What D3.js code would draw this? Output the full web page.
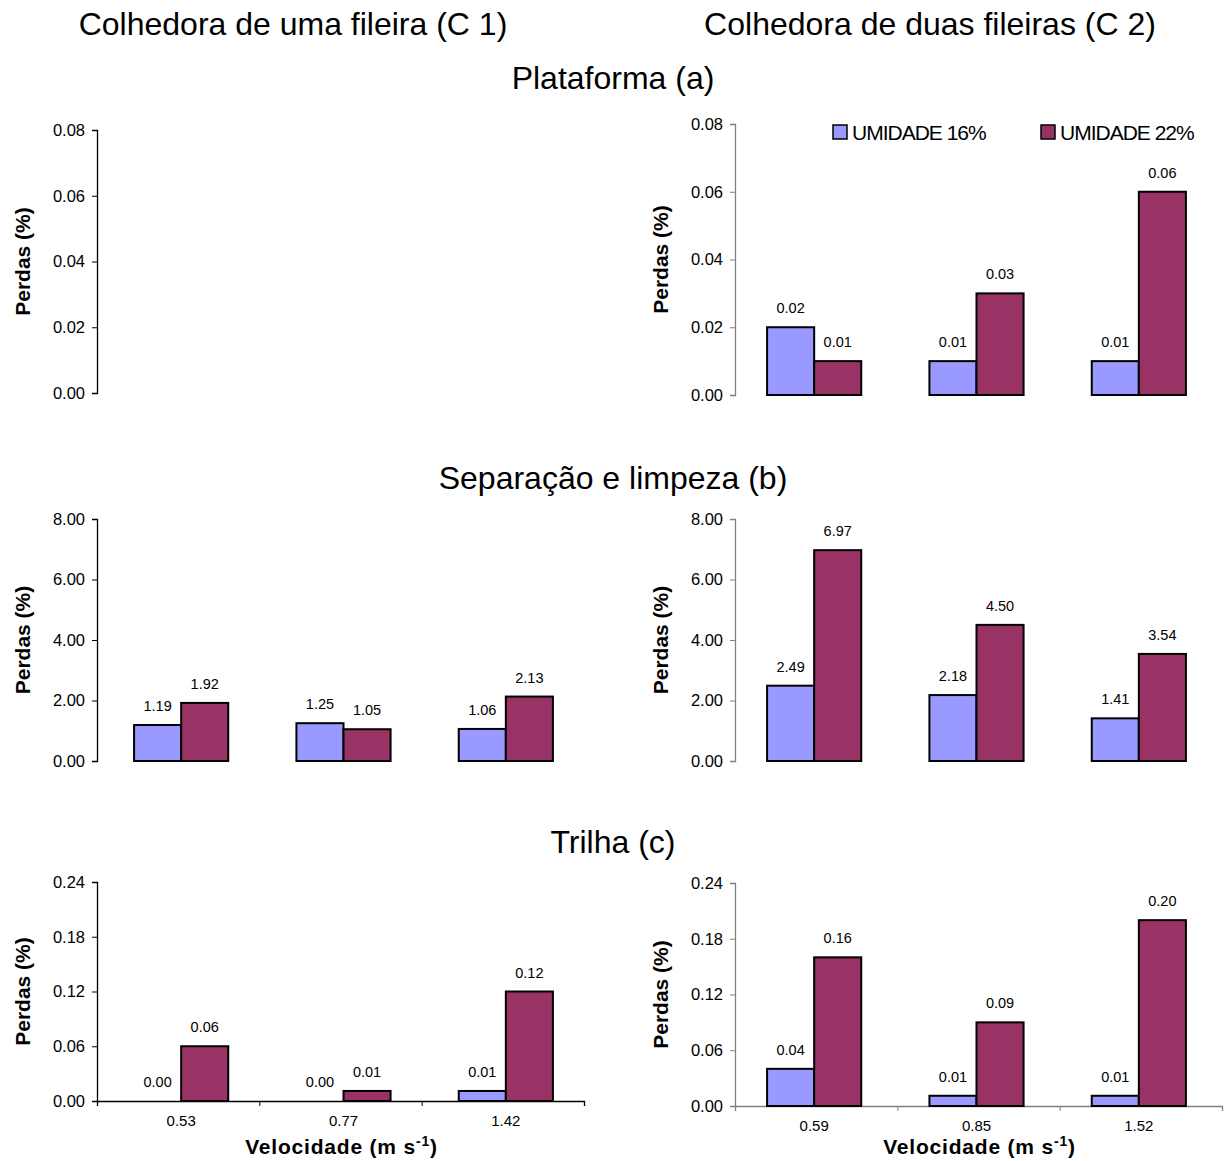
<!DOCTYPE html>
<html lang="pt">
<head>
<meta charset="UTF-8">
<title>Perdas por colhedora</title>
<script src="https://d3js.org/d3.v7.min.js"></script>
<style>
  body { margin: 0; background: #fff; }
  text { font-family: "Liberation Sans", Arial, sans-serif; }
</style>
</head>
<body>
<div id="chart"></div>
<script>
// categories (velocidade, m/s) for each harvester
var categoriesC1 = ["0.53", "0.77", "1.42"];
var categoriesC2 = ["0.59", "0.85", "1.52"];
var series = ["UMIDADE 16%", "UMIDADE 22%"];

// Plataforma (a) - C1 panel has no bars
var plataformaC1_16 = [];
var plataformaC1_22 = [];
var plataformaC2_16 = [0.02, 0.01, 0.01];
var plataformaC2_22 = [0.01, 0.03, 0.06];

// Separação e limpeza (b)
var separacaoC1_16 = [1.19, 1.25, 1.06];
var separacaoC1_22 = [1.92, 1.05, 2.13];
var separacaoC2_16 = [2.49, 2.18, 1.41];
var separacaoC2_22 = [6.97, 4.50, 3.54];

// Trilha (c)
var trilhaC1_16 = [0.00, 0.00, 0.011];
var trilhaC1_22 = [0.06, 0.011, 0.12];
var trilhaC2_16 = [0.04, 0.011, 0.011];
var trilhaC2_22 = [0.16, 0.09, 0.20];

// y tick labels
var ticksPlataforma = [0, 0.02, 0.04, 0.06, 0.08];
var ticksSeparacao = [0, 2, 4, 6, 8];
var ticksTrilha = [0, 0.06, 0.12, 0.18, 0.24];

var colors = ["#9999ff", "#993366"];
var fmt = d3.format(".2f");

var svg = d3.select("#chart").append("svg")
    .attr("width", 1226)
    .attr("height", 1161);

// column and section titles
function title(x, y, s) {
    svg.append("text").attr("x", x).attr("y", y).attr("text-anchor", "middle")
        .style("font-size", "32px").text(s);
}
title(293, 35, "Colhedora de uma fileira (C 1)");
title(930, 35, "Colhedora de duas fileiras (C 2)");
title(613, 89, "Plataforma (a)");
title(613, 489, "Separação e limpeza (b)");
title(613, 853, "Trilha (c)");

// one panel per harvester / loss type
var panels = [
    { cats: categoriesC1, s1: plataformaC1_16, s2: plataformaC1_22, ticks: ticksPlataforma, x0: 97, x1: 584, shift: 3, top: 130, bot: 393, axisColor: "#000", xAxis: false, noBars: true },
    { cats: categoriesC2, s1: plataformaC2_16, s2: plataformaC2_22, ticks: ticksPlataforma, x0: 735, x1: 1222, shift: -2, top: 124, bot: 395, axisColor: "#808080", xAxis: false },
    { cats: categoriesC1, s1: separacaoC1_16, s2: separacaoC1_22, ticks: ticksSeparacao, x0: 97, x1: 584, shift: 3, top: 519, bot: 761, axisColor: "#000", xAxis: false },
    { cats: categoriesC2, s1: separacaoC2_16, s2: separacaoC2_22, ticks: ticksSeparacao, x0: 735, x1: 1222, shift: -2, top: 519, bot: 761, axisColor: "#808080", xAxis: false },
    { cats: categoriesC1, s1: trilhaC1_16, s2: trilhaC1_22, ticks: ticksTrilha, x0: 97, x1: 584, shift: 3, top: 882, bot: 1101, axisColor: "#000", xAxis: true },
    { cats: categoriesC2, s1: trilhaC2_16, s2: trilhaC2_22, ticks: ticksTrilha, x0: 735, x1: 1222, shift: -2, top: 883, bot: 1106, axisColor: "#808080", xAxis: true }
];

panels.forEach(function (p) {
    var y = d3.scaleLinear()
        .domain([p.ticks[0], p.ticks[p.ticks.length - 1]])
        .range([p.bot, p.top]);

    var x = d3.scaleBand()
        .domain(p.cats)
        .range([p.x0 + p.shift, p.x1 + p.shift])
        .paddingInner(0.42)
        .paddingOuter(0.21);

    var xs = d3.scaleBand()
        .domain(series)
        .range([0, x.bandwidth()]);

    // y axis
    var yAxis = svg.append("g")
        .attr("transform", "translate(" + p.x0 + ",0)")
        .call(d3.axisLeft(y).tickValues(p.ticks).tickSize(5).tickPadding(7).tickFormat(fmt));
    yAxis.select(".domain").attr("stroke", p.axisColor).attr("stroke-width", 1.3);
    yAxis.selectAll(".tick line").attr("stroke", p.axisColor);
    yAxis.selectAll(".tick text")
        .style("font-size", "16.5px").attr("fill", "#000")
        .style("font-family", "'Liberation Sans', Arial, sans-serif");

    // y label
    svg.append("text")
        .attr("transform", "translate(" + (p.x0 - 67) + "," + ((p.top + p.bot) / 2) + ") rotate(-90)")
        .attr("text-anchor", "middle")
        .style("font-size", "21px").style("font-weight", "bold")
        .text("Perdas (%)");

    // x axis only on the bottom row
    if (p.xAxis) {
        var bounds = d3.scaleLinear().domain([0, 3]).range([p.x0, p.x1]);
        var xb = svg.append("g")
            .attr("transform", "translate(0," + p.bot + ")")
            .call(d3.axisBottom(bounds).tickValues([1, 2, 3]).tickSize(5).tickFormat(""));
        xb.select(".domain").attr("stroke", p.axisColor).attr("stroke-width", 1.3);
        xb.selectAll(".tick line").attr("stroke", p.axisColor);

        var xl = svg.append("g")
            .attr("transform", "translate(0," + p.bot + ")")
            .call(d3.axisBottom(x).tickSize(0).tickPadding(14));
        xl.select(".domain").remove();
        xl.selectAll(".tick text").style("font-size", "15px")
            .style("font-family", "'Liberation Sans', Arial, sans-serif");

        var t = svg.append("text")
            .attr("x", (p.x0 + p.x1) / 2 + 1)
            .attr("y", 1154)
            .attr("text-anchor", "middle")
            .style("font-size", "21px").style("font-weight", "bold")
            .style("letter-spacing", "0.8px");
        t.append("tspan").text("Velocidade (m s");
        t.append("tspan").attr("dy", -8).style("font-size", "14px").text("-1");
        t.append("tspan").attr("dy", 8).text(")");
    }

    if (p.noBars) return;

    var rows = [];
    p.cats.forEach(function (c, i) {
        rows.push({ cat: c, key: series[0], v: p.s1[i], col: colors[0] });
        rows.push({ cat: c, key: series[1], v: p.s2[i], col: colors[1] });
    });

    svg.append("g").selectAll("rect")
        .data(rows.filter(function (d) { return d.v > 0.001; }))
        .enter().append("rect")
        .attr("x", function (d) { return x(d.cat) + xs(d.key); })
        .attr("y", function (d) { return y(d.v); })
        .attr("width", xs.bandwidth())
        .attr("height", function (d) { return p.bot - y(d.v); })
        .attr("fill", function (d) { return d.col; })
        .attr("stroke", "#000")
        .attr("stroke-width", 2);

    svg.append("g").selectAll("text")
        .data(rows)
        .enter().append("text")
        .attr("x", function (d) { return x(d.cat) + xs(d.key) + xs.bandwidth() / 2; })
        .attr("y", function (d) { return y(d.v) - 14; })
        .attr("text-anchor", "middle")
        .style("font-size", "14.5px")
        .text(function (d) { return fmt(d.v); });
});

// legend (top right panel)
var legend = svg.append("g");
series.forEach(function (s, i) {
    var lx = i === 0 ? 833 : 1041;
    legend.append("rect")
        .attr("x", lx).attr("y", 125).attr("width", 14).attr("height", 14)
        .attr("fill", colors[i]).attr("stroke", "#000").attr("stroke-width", 1.5);
    legend.append("text")
        .attr("x", lx + 19).attr("y", 140)
        .style("font-size", "21px").style("letter-spacing", "-1px")
        .text(s);
});
</script>
</body>
</html>
